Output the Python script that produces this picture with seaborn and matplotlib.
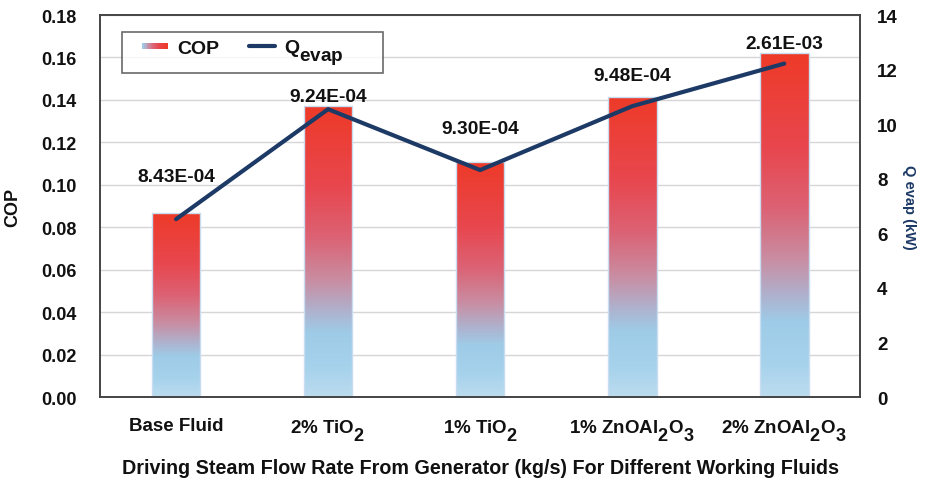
import numpy as np
import pandas as pd
import matplotlib
matplotlib.use("Agg")
import matplotlib.pyplot as plt
import seaborn as sns
from matplotlib.colors import LinearSegmentedColormap
from matplotlib.patches import Rectangle
from matplotlib.lines import Line2D
from matplotlib.legend_handler import HandlerBase, HandlerLine2D

# Chemical-formula style subscripts: nearly full size and dropped well below
# the baseline.
try:
    import matplotlib._mathtext as _mt
    _mt.SHRINK_FACTOR = 0.97
    _mt.FontConstantsBase.sub1 = 0.8
except Exception:
    pass

# --- data -------------------------------------------------------------------
categories = ["Base Fluid", "2% TiO$_2$", "1% TiO$_2$",
              "1% ZnOAl$_2$O$_3$", "2% ZnOAl$_2$O$_3$"]
cop = [0.0867, 0.1370, 0.1110, 0.1415, 0.1620]
q_evap = [6.52, 10.55, 8.32, 10.66, 12.22]
steam_flow = ["8.43E-04", "9.24E-04", "9.30E-04", "9.48E-04", "2.61E-03"]
# vertical placement of the flow-rate annotations (COP axis units)
label_y = [0.1040, 0.1415, 0.1265, 0.1515, 0.1665]

# --- style ------------------------------------------------------------------
sns.set_theme(style="white")
plt.rcParams["font.family"] = ["Liberation Sans", "DejaVu Sans"]
plt.rcParams["font.weight"] = "bold"
plt.rcParams["mathtext.fontset"] = "custom"
plt.rcParams["mathtext.rm"] = "Liberation Sans:bold"
plt.rcParams["mathtext.it"] = "Liberation Sans:bold"
plt.rcParams["mathtext.bf"] = "Liberation Sans:bold"

navy = "#1d3a66"
text_col = "#111111"
grad = LinearSegmentedColormap.from_list(
    "cop_grad",
    [(0.0, "#bcdcef"), (0.10, "#a6d2ec"), (0.22, "#9ecbe7"),
     (0.30, "#b0b0cc"), (0.40, "#c98da2"), (0.55, "#dc6274"),
     (0.72, "#e8474f"), (1.0, "#ee3a28")])

df = pd.DataFrame({"fluid": categories, "COP": cop, "Q": q_evap})

fig = plt.figure(figsize=(9.26, 4.85), dpi=100)
ax = fig.add_axes([0.108, 0.179, 0.821, 0.788])

sns.barplot(data=df, x="fluid", y="COP", ax=ax, width=0.32,
            color="#ee3b28", edgecolor="#c8def0", linewidth=1.0,
            saturation=1, zorder=2)

# vertical gradient fill inside each bar
gimg = np.linspace(0, 1, 256).reshape(-1, 1)
for p in ax.patches:
    x0, y0 = p.get_x(), p.get_y()
    w, h = p.get_width(), p.get_height()
    im = ax.imshow(gimg, cmap=grad, origin="lower", aspect="auto",
                   extent=[x0, x0 + w, y0, y0 + h], zorder=2.1,
                   interpolation="bilinear")
    im.set_clip_path(p)
    p.set_facecolor("none")
    p.set_zorder(2.2)

ax.set_xlim(-0.5, len(categories) - 0.5)
ax.set_ylim(0, 0.18)
ax.set_yticks(np.arange(0, 0.181, 0.02))
ax.set_yticklabels([f"{v:.2f}" for v in np.arange(0, 0.181, 0.02)])
ax.yaxis.grid(True, color="#d6d6d6", linewidth=1.0, zorder=0)
ax.set_axisbelow(True)
ax.tick_params(axis="y", length=0, pad=17, labelsize=13, labelcolor=text_col)
ax.tick_params(axis="x", length=0, pad=14, labelsize=13.5, labelcolor=text_col)
for lab in ax.get_xticklabels() + ax.get_yticklabels():
    lab.set_fontweight("bold")
ax.set_ylabel("COP", fontsize=13, fontweight="bold", color=text_col, labelpad=14)
ax.set_xlabel("Driving Steam Flow Rate From Generator (kg/s) For Different Working Fluids",
              fontsize=14.2, fontweight="bold", color=text_col, labelpad=12)
for s in ax.spines.values():
    s.set_color("#444444")
    s.set_linewidth(1.2)

# flow-rate annotations above bars
for i, (txt, yy) in enumerate(zip(steam_flow, label_y)):
    ax.text(i, yy, txt, ha="center", va="center", fontsize=13.8,
            fontweight="bold", color=text_col, zorder=5)

# secondary axis: evaporator load
ax2 = ax.twinx()
sns.lineplot(x=np.arange(len(categories)), y=q_evap, ax=ax2, color=navy,
             linewidth=3, zorder=3)
ax2.set_ylim(0, 14)
ax2.set_yticks(np.arange(0, 15, 2))
ax2.tick_params(axis="y", length=0, pad=12, labelsize=13.5, labelcolor=text_col)
for lab in ax2.get_yticklabels():
    lab.set_fontweight("bold")
ax2.set_ylabel("Q evap (kW)", fontsize=10.5, fontweight="bold", color=navy,
               rotation=270, labelpad=13)
for s in ax2.spines.values():
    s.set_color("#444444")
    s.set_linewidth(1.2)


class GradientHandler(HandlerBase):
    def create_artists(self, legend, orig_handle, xdescent, ydescent,
                       width, height, fontsize, trans):
        arts = []
        n = 20
        for k in range(n):
            r = Rectangle((-xdescent + width * k / n, -ydescent + height * 0.3),
                          width / n + 0.3, height * 0.45,
                          facecolor=grad(0.2 + 0.8 * k / (n - 1)),
                          edgecolor="none", transform=trans)
            arts.append(r)
        return arts


cop_handle = Rectangle((0, 0), 1, 1)
q_handle = Line2D([], [], color=navy, linewidth=3)
leg = ax2.legend([cop_handle, q_handle], ["COP", "Q$_{evap}$       "],
                 handler_map={Rectangle: GradientHandler(xpad=0.72),
                              Line2D: HandlerLine2D(xpad=0.72)},
                 loc="upper left", bbox_to_anchor=(0.029, 0.955), ncol=2,
                 frameon=True, fancybox=False, fontsize=14,
                 handlelength=2.06, handletextpad=0.46, columnspacing=0.82,
                 borderpad=0.3, borderaxespad=0)
leg.get_frame().set_edgecolor("#444444")
leg.get_frame().set_linewidth(1.2)
for t in leg.get_texts():
    t.set_fontweight("bold")
    t.set_color(text_col)

fig.savefig("out.png", dpi=100)
